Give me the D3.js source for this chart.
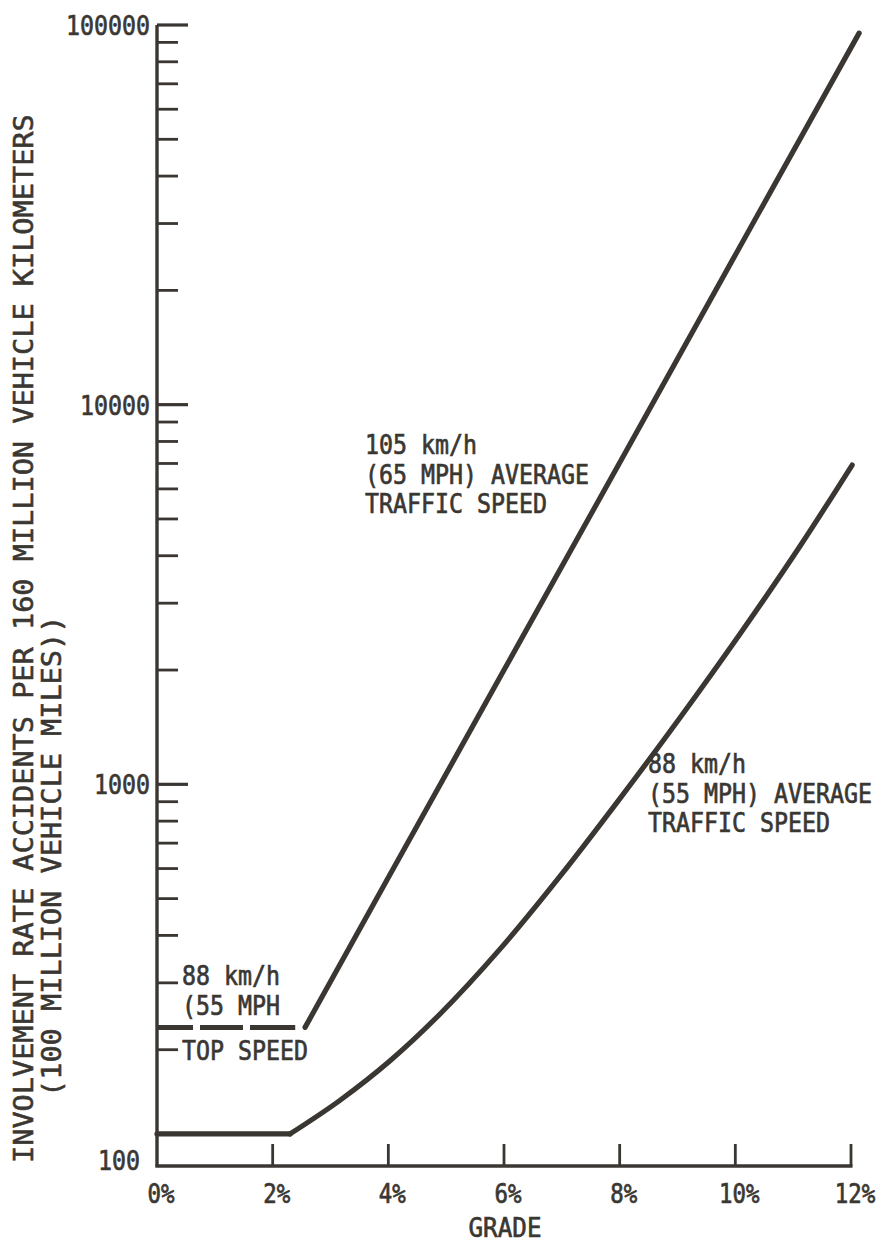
<!DOCTYPE html>
<html>
<head>
<meta charset="utf-8">
<script src="https://cdn.jsdelivr.net/npm/d3@7"></script>
<style>
  html, body { margin: 0; padding: 0; background: #fff; }
  svg text { font-family: "DejaVu Sans Mono", "Liberation Mono", monospace; fill: #3a3733; stroke: #3a3733; stroke-width: 0.6; }
</style>
</head>
<body>
<svg id="chart" width="886" height="1243"></svg>
<script>
// grade (%) on x, involvement rate on a log y axis
var gradeTicks = [0, 2, 4, 6, 8, 10, 12];
var gradeLabels = ["0%", "2%", "4%", "6%", "8%", "10%", "12%"];
var rateDecades = [100, 1000, 10000, 100000];
var rateLabels = ["100", "1000", "10000", "100000"];

// 105 km/h (65 MPH) average traffic speed
var fastGrade = [2.56, 4, 6, 8, 10, 12.14];
var fastRate = [229, 568, 2000, 7030, 24800, 95200];

// 88 km/h (55 MPH) average traffic speed
var slowGrade = [0, 2.30, 3.16, 4.03, 4.89, 5.93, 6.97, 8.01, 9.04, 10.08, 11.12, 12.02];
var slowRate = [120, 120, 147, 187, 248, 368, 573, 920, 1495, 2488, 4243, 6934];

// 88 km/h (55 MPH) top speed, dashed
var topGrade = [0, 2.39];
var topRate = [229, 229];

var yTitle = ["INVOLVEMENT RATE  ACCIDENTS PER 160 MILLION VEHICLE KILOMETERS",
              "(100 MILLION VEHICLE MILES))"];
var fastNote = ["105 km/h", "(65 MPH) AVERAGE", "TRAFFIC SPEED"];
var slowNote = ["88 km/h", "(55 MPH) AVERAGE", "TRAFFIC SPEED"];
var topNote = ["88 km/h", "(55 MPH"];
var topNote2 = "TOP SPEED";

var ink = "#3a3733";
var svg = d3.select("#chart");

var x = d3.scaleLinear().domain([0, 12]).range([157, 851]);
var y = d3.scaleLog().domain([100, 100000]).range([1164, 25]);

// typewriter text: font size picked from the pitch, stretched to a ~20px cap height
var addText = function(sel, str, px, py, pitch, anchor, rot) {
  var fs = pitch / 0.6021;
  var t = "translate(" + px + "," + py + ")" + (rot ? " rotate(" + rot + ")" : "") +
    " scale(1," + (27 / fs).toFixed(3) + ")";
  return sel.append("text")
    .attr("transform", t)
    .attr("font-size", fs.toFixed(2))
    .attr("text-anchor", anchor || "start")
    .text(str);
};

// y axis, minor ticks 2..9 in each decade
var minor = [];
rateDecades.slice(0, 3).forEach(function(d) {
  for (var k = 2; k <= 9; k++) minor.push(d * k);
});
var yAxis = svg.append("g");
yAxis.append("line")
  .attr("x1", x(0)).attr("x2", x(0))
  .attr("y1", y(100000)).attr("y2", y(100) + 2)
  .attr("stroke", ink).attr("stroke-width", 3.4);
yAxis.selectAll("line.minor").data(minor).enter().append("line")
  .attr("class", "minor")
  .attr("x1", x(0)).attr("x2", x(0) + 21)
  .attr("y1", function(d) { return y(d); })
  .attr("y2", function(d) { return y(d); })
  .attr("stroke", ink).attr("stroke-width", 2.8);
yAxis.selectAll("line.major").data(rateDecades.slice(1)).enter().append("line")
  .attr("class", "major")
  .attr("x1", x(0)).attr("x2", x(0) + 31)
  .attr("y1", function(d) { return y(d); })
  .attr("y2", function(d) { return y(d); })
  .attr("stroke", ink).attr("stroke-width", 3.2);
rateDecades.forEach(function(d, i) {
  addText(svg, rateLabels[i], i === 0 ? 140 : 150, y(d) + (i === 0 ? 6 : 10), 14, "end");
});

// x axis
var xAxis = svg.append("g");
xAxis.append("line")
  .attr("x1", x(0) - 1.7).attr("x2", x(12) + 1.5)
  .attr("y1", y(100) + 2).attr("y2", y(100) + 2)
  .attr("stroke", ink).attr("stroke-width", 3.4);
xAxis.selectAll("line.tick").data(gradeTicks.slice(1)).enter().append("line")
  .attr("class", "tick")
  .attr("x1", function(d) { return x(d); })
  .attr("x2", function(d) { return x(d); })
  .attr("y1", y(100) + 2).attr("y2", y(100) - 20)
  .attr("stroke", ink).attr("stroke-width", 2.8);
gradeTicks.forEach(function(d, i) {
  addText(svg, gradeLabels[i], x(d) + 4, 1203, 13.5, "middle");
});
addText(svg, "GRADE", 505, 1237, 14.6, "middle");

// rotated y title, two lines reading upward
yTitle.forEach(function(str, i) {
  addText(svg, str, 33 + i * 28, i === 0 ? 1163 : 1097, 17.2, "start", -90);
});

// curves
var line = d3.line()
  .x(function(d) { return x(d[0]); })
  .y(function(d) { return y(d[1]); });

var curveStroke = function(path) {
  return path.attr("fill", "none").attr("stroke", ink)
    .attr("stroke-width", 5.2).attr("stroke-linecap", "round")
    .attr("stroke-linejoin", "round");
};

curveStroke(svg.append("path")
  .datum(d3.zip(fastGrade, fastRate))
  .attr("d", line));

// flat part straight, then the smooth rise from the bend
var slow = d3.zip(slowGrade, slowRate);
curveStroke(svg.append("path")
  .datum(slow.slice(0, 2))
  .attr("d", line));
curveStroke(svg.append("path")
  .datum(slow.slice(1))
  .attr("d", d3.line().curve(d3.curveMonotoneX)
    .x(function(d) { return x(d[0]); })
    .y(function(d) { return y(d[1]); })));

svg.append("path")
  .datum(d3.zip(topGrade, topRate))
  .attr("d", line)
  .attr("fill", "none").attr("stroke", ink)
  .attr("stroke-width", 5).attr("stroke-dasharray", "36,7,43,7,46");

// annotations
fastNote.forEach(function(str, i) {
  addText(svg, str, 365, 454 + i * 29.5, 14);
});
slowNote.forEach(function(str, i) {
  addText(svg, str, 648, 773 + i * 29.5, 14);
});
topNote.forEach(function(str, i) {
  addText(svg, str, 182, 985 + i * 30, 14);
});
addText(svg, topNote2, 182, 1060, 14);
</script>
</body>
</html>
